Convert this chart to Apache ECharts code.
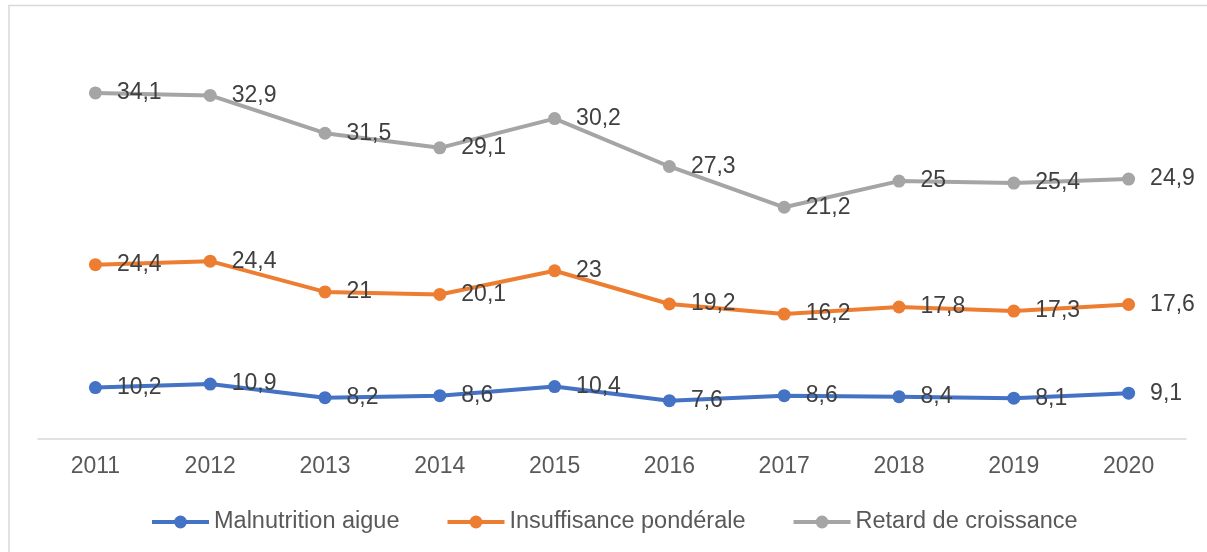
<!DOCTYPE html>
<html>
<head>
<meta charset="utf-8">
<script src="https://cdn.jsdelivr.net/npm/echarts@6/dist/echarts.min.js"></script>
<style>
html,body{margin:0;padding:0;background:#fff;}
#c{width:1207px;height:552px;}
</style>
</head>
<body>
<div id="c"></div>
<script>
const years = ['2011','2012','2013','2014','2015','2016','2017','2018','2019','2020'];
const malnutrition = [10.2, 10.9, 8.2, 8.6, 10.4, 7.6, 8.6, 8.4, 8.1, 9.1];
const insuffisance = [24.4, 24.4, 21, 20.1, 23, 19.2, 16.2, 17.8, 17.3, 17.6];
const retard = [34.1, 32.9, 31.5, 29.1, 30.2, 27.3, 21.2, 25, 25.4, 24.9];
const seriesNames = ['Malnutrition aigue', 'Insuffisance pondérale', 'Retard de croissance'];
const colors = ['#4472C4', '#ED7D31', '#A5A5A5'];

const chart = echarts.init(document.getElementById('c'), null, {renderer: 'canvas'});
const font = 'Arial, "Liberation Sans", sans-serif';

function mk(name, data, color) {
  return {
    name: name,
    type: 'line',
    stack: 'total',
    data: data,
    symbol: 'circle',
    symbolSize: 13,
    lineStyle: {width: 4, color: color},
    itemStyle: {color: color},
    label: {
      show: true,
      position: 'right',
      distance: 15,
      color: '#404040',
      fontSize: 23,
      fontFamily: font,
      formatter: p => String(p.value).replace('.', ',')
    },
    animation: false
  };
}

chart.setOption({
  animation: false,
  graphic: [{
    type: 'rect',
    shape: {x: 9, y: 5.5, width: 1220, height: 600},
    style: {fill: 'none', stroke: '#d9d9d9', lineWidth: 1.5},
    silent: true,
    z: -1
  }],
  grid: {left: 38, right: 21, top: 36, bottom: 113, containLabel: false},
  xAxis: {
    type: 'category',
    data: years,
    boundaryGap: true,
    axisLine: {show: true, lineStyle: {color: '#d9d9d9', width: 1.5}},
    axisTick: {show: false},
    axisLabel: {color: '#595959', fontSize: 23, fontFamily: font, margin: 16}
  },
  yAxis: {
    type: 'value',
    min: 0,
    max: 80,
    show: false,
    splitLine: {show: false}
  },
  legend: {
    data: seriesNames,
    left: 145,
    top: 505,
    itemWidth: 57,
    itemHeight: 16,
    itemGap: 46,
    lineStyle: {width: 4},
    textStyle: {color: '#595959', fontSize: 23.5, fontFamily: font}
  },
  series: [
    mk(seriesNames[0], malnutrition, colors[0]),
    mk(seriesNames[1], insuffisance, colors[1]),
    mk(seriesNames[2], retard, colors[2])
  ]
});
</script>
</body>
</html>
